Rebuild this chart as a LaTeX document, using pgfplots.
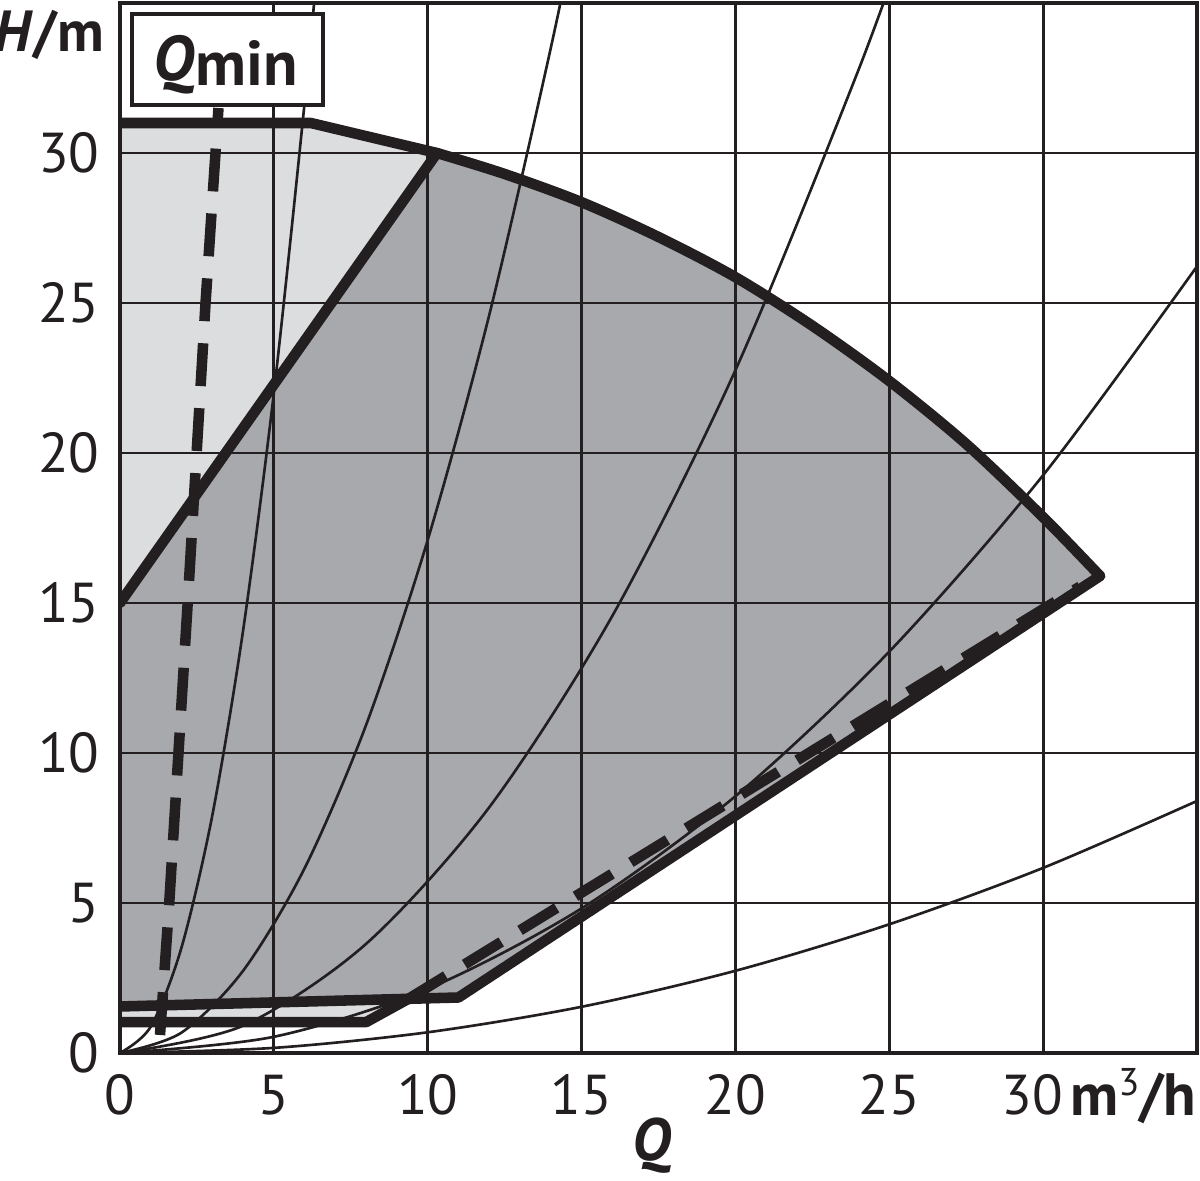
\documentclass[border=0pt]{standalone}
\usepackage{fontspec}
\setmainfont{PT Sans}
\usepackage{pgfplots}
\pgfplotsset{compat=1.18}
\definecolor{ink}{HTML}{231F20}
\definecolor{darkfill}{HTML}{A7A9AC}
\definecolor{lightfill}{HTML}{DCDDDF}
\begin{document}
\begin{tikzpicture}
\begin{axis}[
  set layers,
  scale only axis, width=10.77cm, height=10.50cm,
  xmin=0, xmax=35, ymin=0, ymax=35,
  xtick={0,5,10,15,20,25,30}, ytick={0,5,10,15,20,25,30},
  xticklabels={0,5,10,15,20,25,30\kern0.22cm},
  yticklabels={0,5,10,15,20,25,30},
  grid=major, major grid style={ink, line width=0.8pt},
  major tick length=0pt,
  axis line style={ink, line width=1.4pt},
  clip mode=individual,
  ticklabel style={font=\fontsize{16}{16}\selectfont, text=ink},
  xticklabel style={anchor=base, inner sep=0pt, yshift=-0.62cm},
  yticklabel style={anchor=east, inner sep=0pt, xshift=-0.2cm},
  thickline/.style={ink, line width=3pt, line join=round, line cap=round},
  dashline/.style={ink, line width=3pt, line cap=butt, dash pattern=on 12.2pt off 6.3pt},
  thinline/.style={ink, line width=0.75pt, smooth},
]
% fills
\addplot[on layer=axis background, draw=none, fill=lightfill] coordinates {(0,31) (6.2,31) (10.3,30) (0,15)};
\addplot[on layer=axis background, draw=none, fill=lightfill] coordinates {(0,1.03) (8,1.03) (9.4,1.82) (0,1.55)};
\addplot[on layer=axis background, draw=none, fill=darkfill] coordinates {
  (0,15) (10.3,30) (12.5,29.3) (15,28.36) (17.5,27.2) (20,25.86) (22.5,24.24)
  (25,22.4) (27.5,20.3) (30,17.86) (31.85,15.9) (11,1.85) (0,1.55)};
% system curves
\addplot[thinline] coordinates {(0,0) (1,0.88) (2,3.52) (3,7.92) (4,14.08) (5,22) (6,31.68) (6.5,37.18)};
\addplot[thinline] coordinates {(0,0) (2,0.68) (4,2.74) (6,6.16) (8,10.94) (10,17.1) (12,24.6) (14,33.5) (15,38.5)};
\addplot[thinline] coordinates {(0,0) (4,0.91) (8,3.64) (12,8.19) (16,14.57) (20,22.76) (24,32.77) (26,38.46)};
\addplot[thinline] coordinates {(0,0) (5,0.54) (10,2.14) (15,4.82) (20,8.56) (25,13.38) (30,19.26) (35,26.22)};
\addplot[thinline] coordinates {(0,0) (5,0.17) (10,0.69) (15,1.54) (20,2.74) (25,4.29) (30,6.17) (35,8.40)};
% thick boundaries
\addplot[thickline] coordinates {(0,31) (6.2,31) (10.3,30)};
\addplot[thickline, smooth] coordinates {
  (10.3,30) (12.5,29.3) (15,28.36) (17.5,27.2) (20,25.86) (22.5,24.24)
  (25,22.4) (27.5,20.3) (30,17.86) (31.85,15.9)};
\addplot[thickline] coordinates {(31.85,15.9) (11,1.85) (0,1.55)};
\addplot[thickline] coordinates {(0,15) (10.3,30)};
\addplot[thickline] coordinates {(0,1.03) (8,1.03) (9.4,1.82)};
% dashed lines
\addplot[dashline] coordinates {(9.4,1.82) (31.2,15.55)};
\addplot[dashline] coordinates {(1.3,0.6) (1.6,5) (2.2,15) (2.78,25) (3.2,31.5)};
% Qmin box
\draw[ink, line width=1.2pt, fill=white] (axis cs:0.39,31.6) rectangle (axis cs:6.6,34.63);
\node[anchor=base, inner sep=0pt, text=ink, font=\fontsize{18}{18}\selectfont\bfseries] at (axis cs:3.44,32.43) {\textit{Q}\raisebox{-0.08em}{min}};
% axis labels
\node[anchor=base east, inner sep=0pt, text=ink, font=\fontsize{16.5}{16.5}\selectfont\bfseries] at (axis cs:-0.49,33.37) {\textit{H}/m};
\node[anchor=base, inner sep=0pt, text=ink, font=\fontsize{17}{17}\selectfont\bfseries] at (axis cs:17.3,-3.57) {\textit{Q}};
\node[anchor=base east, inner sep=0pt, text=ink, font=\fontsize{17}{17}\selectfont\bfseries] at (axis cs:35,-2.07) {m\raisebox{0.33em}{\fontsize{11}{11}\selectfont\mdseries 3}/h};
\end{axis}
\pgfresetboundingbox
\path (-1.20,-1.28) rectangle (10.80,10.53);
\end{tikzpicture}
\end{document}
